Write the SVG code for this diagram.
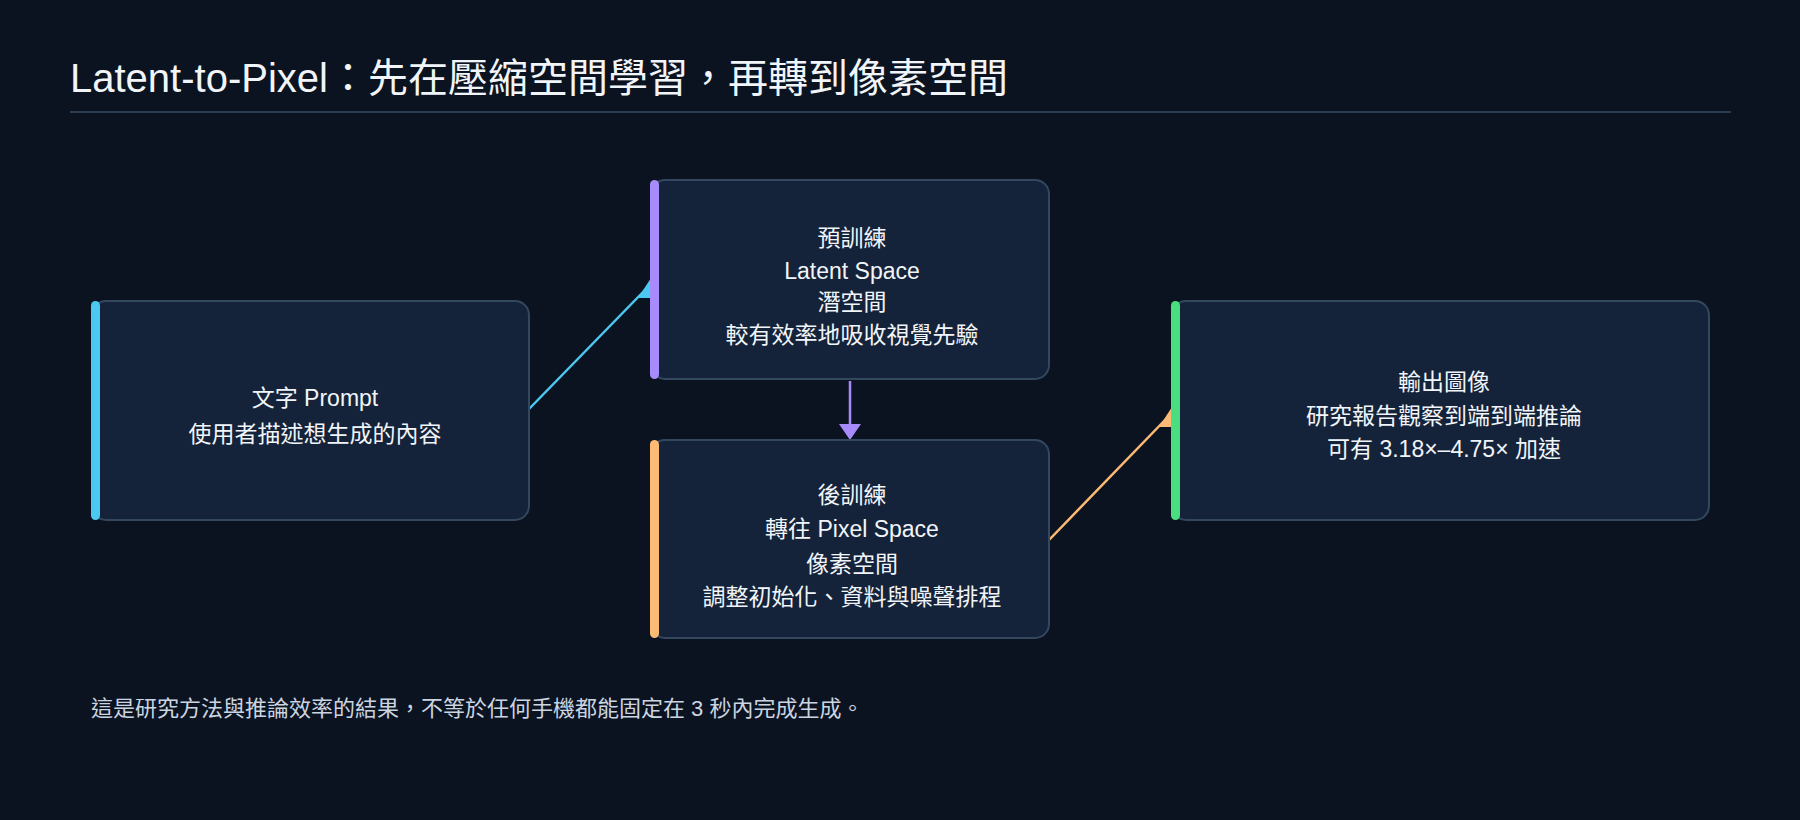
<svg xmlns="http://www.w3.org/2000/svg" width="1800" height="820" viewBox="0 0 1800 820">
<style>
.t{font-family:"Liberation Sans","Noto Sans CJK TC",sans-serif;fill:#f1f5f9}
.n{font-size:23px;text-anchor:middle}
.box{fill:#15233a;stroke:#33475f;stroke-width:2}
</style>
<defs>
<marker id="ac" markerWidth="10" markerHeight="10" refX="8" refY="5" orient="auto" markerUnits="userSpaceOnUse" viewBox="0 0 10 10"><path d="M0,0L10,5L0,10z" fill="#4cc9f0"/></marker>
</defs>
<rect width="1800" height="820" fill="#0b1320"/>
<text class="t" x="70" y="92" font-size="40">Latent-to-Pixel：先在壓縮空間學習，再轉到像素空間</text>
<line x1="70" y1="112" x2="1731" y2="112" stroke="#2a3b52" stroke-width="2"/>
<g id="connectors" stroke-width="2.5" fill="none">
<line x1="529" y1="409" x2="645" y2="290" stroke="#4cc9f0"/>
<path d="M651,278 L638,298 L656,298 Z" fill="#4cc9f0" stroke="none"/>
<line x1="850" y1="381" x2="850" y2="428" stroke="#a78bfa"/>
<path d="M839,424 L861,424 L850,440 Z" fill="#a78bfa" stroke="none"/>
<line x1="1049" y1="540" x2="1166" y2="419" stroke="#fdba74"/>
<path d="M1172,407 L1159,427 L1182,427 Z" fill="#fdba74" stroke="none"/>
</g>
<g id="n1"><rect class="box" x="92" y="301" width="437" height="219" rx="14"/><rect x="91" y="301" width="9" height="219" rx="4.5" fill="#4cc9f0"/>
<text class="t n" x="315" y="406">文字 Prompt</text><text class="t n" x="315" y="442">使用者描述想生成的內容</text></g>
<g id="n2"><rect class="box" x="651" y="180" width="398" height="199" rx="14"/><rect x="650" y="180" width="9" height="199" rx="4.5" fill="#a78bfa"/>
<text class="t n" x="852" y="246">預訓練</text><text class="t n" x="852" y="279">Latent Space</text><text class="t n" x="852" y="310">潛空間</text><text class="t n" x="852" y="343">較有效率地吸收視覺先驗</text></g>
<g id="n3"><rect class="box" x="651" y="440" width="398" height="198" rx="14"/><rect x="650" y="440" width="9" height="198" rx="4.5" fill="#fdba74"/>
<text class="t n" x="852" y="503">後訓練</text><text class="t n" x="852" y="537">轉往 Pixel Space</text><text class="t n" x="852" y="572">像素空間</text><text class="t n" x="852" y="605">調整初始化、資料與噪聲排程</text></g>
<g id="n4"><rect class="box" x="1172" y="301" width="537" height="219" rx="14"/><rect x="1171" y="301" width="9" height="219" rx="4.5" fill="#4ade80"/>
<text class="t n" x="1444" y="390">輸出圖像</text><text class="t n" x="1444" y="424">研究報告觀察到端到端推論</text><text class="t n" x="1444" y="457">可有 3.18×–4.75× 加速</text></g>
<text class="t" x="91" y="716" font-size="22" fill="#cbd5e1" style="fill:#cbd5e1">這是研究方法與推論效率的結果，不等於任何手機都能固定在 3 秒內完成生成。</text>
</svg>
